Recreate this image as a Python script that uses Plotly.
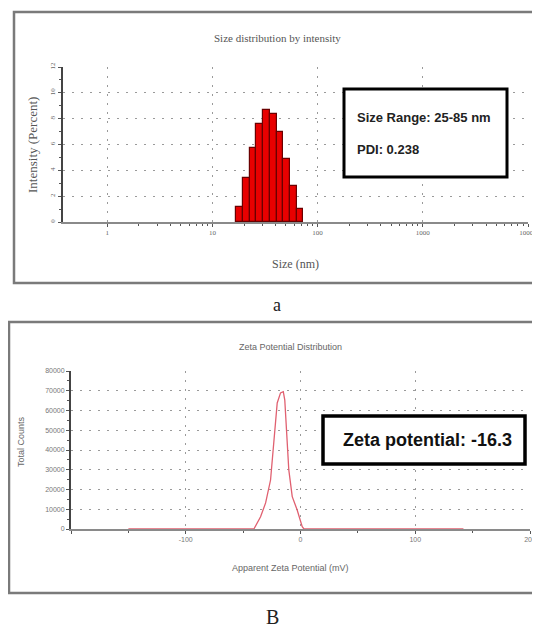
import numpy as np
import plotly.graph_objects as go

# ---------------- data ----------------
size_nm = [18.17, 21.04, 24.36, 28.21, 32.67, 37.84, 43.82, 50.75, 58.77, 68.06]
intensity_pct = [1.2, 3.4, 5.7, 7.6, 8.7, 8.4, 7.0, 4.9, 2.8, 1.0]
size_tick_vals = [1, 10, 100, 1000, 10000]
size_tick_text = ["1", "10", "100", "1000", "10000"]

zeta_mv = [-150, -40.6, -34.8, -30.4, -26.1, -23.7, -22.3, -20.3, -17.4, -15.0,
           -13.7, -12.2, -10.2, -7.2, -2.9, 1.5, 3.0, 142]
zeta_counts = [0, 0, 6200, 13200, 24800, 40000, 50100, 63800, 68900, 69500,
               65300, 50100, 29900, 16400, 9600, 1200, 0, 0]
zeta_tick_vals = [-200, -100, 0, 100, 200]
zeta_tick_text = ["", "-100", "0", "100", "200"]
count_tick_vals = [0, 10000, 20000, 30000, 40000, 50000, 60000, 70000, 80000]
count_tick_text = ["0", "10000", "20000", "30000", "40000", "50000", "60000", "70000", "80000"]

size_label = "Size Range: 25-85 nm"
pdi_label = "PDI: 0.238"
zeta_label = "Zeta potential: -16.3"

# the page places the figure 8px in from the top-left corner
OFF = 8
W, H = 540 - OFF, 631 - OFF


def px(x):
    return (x - OFF) / W


def py(y):
    return 1 - (y - OFF) / H


SERIF = "Liberation Serif, DejaVu Serif, serif"
SANS = "Liberation Sans, Arial, sans-serif"
NARROW = "Liberation Sans Narrow, Arial Narrow, Liberation Sans, sans-serif"

log_sizes = np.log10(size_nm)
bin_width = float(np.log10(size_nm[1] / size_nm[0]))
minor_log = [float(np.log10(m * d)) for d in [1, 10, 100, 1000] for m in range(2, 10)]

fig = go.Figure()

fig.add_trace(go.Bar(
    x=log_sizes, y=intensity_pct, width=bin_width,
    marker=dict(color="#e80000", line=dict(color="#6a0000", width=1.2)),
    xaxis="x", yaxis="y", showlegend=False,
))

fig.add_trace(go.Scatter(
    x=zeta_mv, y=zeta_counts, mode="lines",
    line=dict(color="#e06070", width=1.3),
    xaxis="x2", yaxis="y2", showlegend=False,
))

grid_common = dict(showgrid=True, gridcolor="#9a9a9a", griddash="2px,7px", gridwidth=1,
                   zeroline=False, showline=True, linecolor="#8a8a8a", linewidth=2,
                   ticks="outside", ticklen=3, tickcolor="#555",
                   ticklabeloverflow="allow")

fig.update_layout(
    width=W, height=H,
    margin=dict(l=0, r=0, t=0, b=0, autoexpand=False),
    paper_bgcolor="white", plot_bgcolor="white",
    bargap=0,
    xaxis=dict(domain=[px(63), px(528)], range=[-0.42, 4.0], anchor="y",
               tickmode="array", tickvals=np.log10(size_tick_vals), ticktext=size_tick_text,
               tickfont=dict(family=SERIF, size=7, color="#666"),
               minor=dict(tickmode="array", tickvals=minor_log, ticks="outside", ticklen=2,
                          tickcolor="#555", showgrid=False),
               **grid_common),
    yaxis=dict(domain=[py(222), py(67)], range=[0, 12], anchor="x",
               tickmode="array", tickvals=[0, 2, 4, 6, 8, 10, 12],
               tickangle=-90, tickfont=dict(family=SERIF, size=7, color="#666"),
               minor=dict(dtick=1, ticks="outside", ticklen=2, tickcolor="#555", showgrid=False),
               **{**grid_common, "linecolor": "#444"}),
    xaxis2=dict(domain=[px(71), px(530)], range=[-200, 200], anchor="y2",
                tickmode="array", tickvals=zeta_tick_vals, ticktext=zeta_tick_text,
                tickfont=dict(family=SANS, size=7, color="#777"),
                minor=dict(dtick=50, ticks="outside", ticklen=2, tickcolor="#555", showgrid=False),
                **grid_common),
    yaxis2=dict(domain=[py(529), py(371)], range=[0, 80000], anchor="x2",
                tickmode="array", tickvals=count_tick_vals, ticktext=count_tick_text,
                tickfont=dict(family=SANS, size=7, color="#777"),
                minor=dict(dtick=5000, ticks="outside", ticklen=2, tickcolor="#555", showgrid=False),
                **{**grid_common, "linecolor": "#444"}),
)

shapes = [
    # panel borders
    dict(type="rect", xref="paper", yref="paper", x0=px(14), x1=px(545), y0=py(283), y1=py(12),
         line=dict(color="#7a7a7a", width=2.5)),
    dict(type="rect", xref="paper", yref="paper", x0=px(9), x1=px(545), y0=py(593), y1=py(322),
         line=dict(color="#7a7a7a", width=2.5)),
    # info boxes
    dict(type="rect", xref="paper", yref="paper", x0=px(344), x1=px(507), y0=py(177), y1=py(89),
         line=dict(color="black", width=3), fillcolor="white"),
    dict(type="rect", xref="paper", yref="paper", x0=px(323), x1=px(525), y0=py(464), y1=py(416),
         line=dict(color="black", width=3.5), fillcolor="white"),
]
fig.update_layout(shapes=shapes)

annotations = [
    dict(text="Size distribution by intensity", x=px(277), y=py(38),
         font=dict(family=SERIF, size=11, color="#555")),
    dict(text="Intensity (Percent)", x=px(32), y=py(145), textangle=-90,
         font=dict(family=SERIF, size=13, color="#555")),
    dict(text="Size (nm)", x=px(295), y=py(264),
         font=dict(family=SERIF, size=12, color="#555")),
    dict(text="<b>" + size_label + "</b>", x=px(355), y=py(117), xanchor="left",
         font=dict(family=NARROW, size=13, color="#222")),
    dict(text="<b>" + pdi_label + "</b>", x=px(355), y=py(150), xanchor="left",
         font=dict(family=NARROW, size=13, color="#222")),
    dict(text="a", x=px(277), y=py(305),
         font=dict(family=SERIF, size=18, color="#222")),
    dict(text="Zeta Potential Distribution", x=px(290), y=py(347),
         font=dict(family=SANS, size=9, color="#666")),
    dict(text="Total Counts", x=px(21), y=py(442), textangle=-90,
         font=dict(family=SANS, size=9, color="#666")),
    dict(text="Apparent Zeta Potential (mV)", x=px(290), y=py(568),
         font=dict(family=SANS, size=9, color="#666")),
    dict(text="<b>" + zeta_label + "</b>", x=px(427), y=py(440),
         font=dict(family=SANS, size=18, color="#111")),
    dict(text="B", x=px(272), y=py(617),
         font=dict(family=SERIF, size=20, color="#222")),
]
for a in annotations:
    a.update(xref="paper", yref="paper", showarrow=False)
    a.setdefault("xanchor", "center")
    a.setdefault("yanchor", "middle")
fig.update_layout(annotations=annotations)

fig.write_html("out.html")
